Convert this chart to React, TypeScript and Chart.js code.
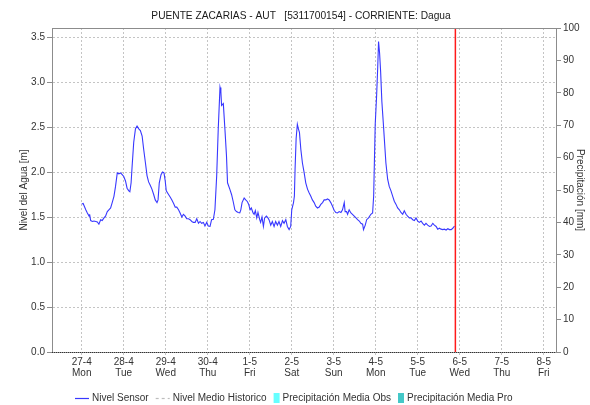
import React, { useEffect, useRef } from 'react';
import { Chart, registerables } from 'chart.js';

Chart.register(...registerables);

const TITLE = 'PUENTE ZACARIAS - AUT   [5311700154] - CORRIENTE: Dagua';
const LEFT_TITLE = 'Nivel del Agua [m]';
const RIGHT_TITLE = 'Precipitación [mm]';

const dayLabels = ['27-4', '28-4', '29-4', '30-4', '1-5', '2-5', '3-5', '4-5', '5-5', '6-5', '7-5', '8-5'];
const weekdayLabels = ['Mon', 'Tue', 'Wed', 'Thu', 'Fri', 'Sat', 'Sun', 'Mon', 'Tue', 'Wed', 'Thu', 'Fri'];
const tickHours = [0, 24, 48, 72, 96, 120, 144, 168, 192, 216, 240, 264];
const levelTicks = [0, 0.5, 1.0, 1.5, 2.0, 2.5, 3.0, 3.5];
const precipTicks = [0, 10, 20, 30, 40, 50, 60, 70, 80, 90, 100];

// hours since 27-4 00:00
const sensorHours = [
  0, 0.8, 2.3, 3.2, 4.2, 4.5, 5.1, 6.1, 7.0, 8.0, 8.9, 9.8, 10.8, 11.7, 12.7, 13.6, 14.6, 15.5, 16.5, 17.4,
  18.4, 19.3, 20.3, 21.2, 22.2, 23.1, 24.0, 25.0, 25.9, 26.9, 27.5, 28.2, 28.8, 29.7, 30.7, 31.6, 32.6, 33.5,
  34.5, 35.4, 36.4, 37.3, 38.2, 39.2, 40.1, 41.1, 42.0, 43.0, 43.6, 44.3, 45.3, 46.2, 47.0, 47.7, 48.3, 49.6,
  50.6, 51.5, 52.5, 53.4, 54.3, 55.3, 56.2, 57.2, 58.1, 59.1, 60.0, 61.0, 61.9, 62.9, 63.8, 64.8, 65.7, 66.7,
  67.6, 68.5, 69.5, 70.4, 71.4, 72.3, 73.3, 74.2, 75.2, 76.1, 77.1, 78.0, 79.0, 79.5, 79.9, 80.9, 81.8, 82.7,
  83.3, 84.6, 85.6, 86.5, 87.5, 88.4, 89.4, 90.3, 90.9, 91.6, 92.8, 93.7, 94.7, 95.4, 96.2, 96.9, 97.9, 98.5,
  99.2, 100.0, 100.7, 101.7, 102.2, 103.0, 103.8, 104.5, 105.5, 106.4, 107.0, 108.0, 108.9, 109.9, 110.8,
  111.8, 112.7, 113.7, 114.7, 115.6, 116.6, 117.5, 118.5, 119.4, 120.0, 121.0, 121.5, 121.9, 122.5, 123.2,
  123.8, 124.4, 125.2, 126.1, 127.1, 128.0, 129.0, 129.9, 130.9, 131.8, 132.8, 133.7, 134.7, 135.7, 136.6,
  137.6, 138.5, 139.5, 140.4, 141.4, 142.3, 143.3, 144.2, 145.2, 146.1, 147.1, 148.1, 149.0, 150.0, 150.5,
  151.3, 151.9, 152.8, 153.8, 154.7, 155.7, 156.7, 157.6, 158.6, 159.5, 160.5, 161.0, 162.0, 162.8, 163.9,
  165.2, 166.2, 166.8, 167.3, 167.7, 168.5, 169.1, 169.6, 170.2, 170.8, 171.5, 172.3, 172.9, 173.8, 174.8,
  175.7, 176.7, 177.7, 178.6, 179.6, 180.5, 181.5, 182.4, 183.4, 184.3, 185.3, 186.2, 187.2, 188.2, 189.1,
  190.1, 191.0, 192.0, 192.9, 193.9, 194.8, 195.8, 196.7, 197.7, 198.7, 199.6, 200.6, 201.5, 202.5, 203.4,
  204.4, 205.3, 206.3, 207.2, 208.2, 209.2, 210.1, 211.1, 212.0, 213.0,
];

const sensorLevels = [
  1.645, 1.65, 1.58, 1.545, 1.51, 1.53, 1.46, 1.45, 1.455, 1.45, 1.445, 1.42, 1.47, 1.46, 1.49, 1.51, 1.56, 1.58, 1.6, 1.66,
  1.73, 1.84, 1.99, 1.98, 1.99, 1.97, 1.95, 1.9, 1.82, 1.79, 1.78, 1.88, 2.07, 2.33, 2.48, 2.51, 2.48, 2.46,
  2.4, 2.25, 2.1, 1.96, 1.89, 1.85, 1.81, 1.75, 1.69, 1.66, 1.69, 1.88, 1.97, 2.0, 1.99, 1.9, 1.79, 1.75,
  1.72, 1.69, 1.65, 1.61, 1.61, 1.58, 1.545, 1.5, 1.53, 1.51, 1.48, 1.48, 1.47, 1.45, 1.44, 1.44, 1.48, 1.43,
  1.45, 1.43, 1.44, 1.4, 1.44, 1.4, 1.395, 1.47, 1.475, 1.58, 1.955, 2.48, 2.94, 2.89, 2.74, 2.76, 2.48, 2.18,
  1.88, 1.81, 1.75, 1.675, 1.58, 1.56, 1.55, 1.545, 1.58, 1.66, 1.71, 1.69, 1.67, 1.64, 1.58, 1.6, 1.545, 1.53,
  1.57, 1.49, 1.55, 1.47, 1.44, 1.5, 1.395, 1.49, 1.51, 1.49, 1.47, 1.41, 1.45, 1.395, 1.45,
  1.41, 1.45, 1.395, 1.46, 1.43, 1.47, 1.395, 1.36, 1.395, 1.58, 1.66, 1.73, 2.03, 2.37, 2.53,
  2.48, 2.44, 2.25, 2.1, 1.99, 1.88, 1.81, 1.77, 1.73, 1.69, 1.66, 1.62, 1.6, 1.61, 1.64,
  1.66, 1.69, 1.69, 1.7, 1.69, 1.66, 1.62, 1.575, 1.55, 1.545, 1.56, 1.55, 1.58, 1.66, 1.56,
  1.56, 1.53, 1.58, 1.545, 1.53, 1.51, 1.49, 1.47, 1.455, 1.43, 1.42, 1.36, 1.41, 1.47, 1.49,
  1.53, 1.545, 1.73, 2.18, 2.53, 2.85, 3.15, 3.45, 3.32, 3.11, 2.78, 2.55, 2.37, 2.1, 1.92,
  1.84, 1.79, 1.73, 1.675, 1.64, 1.6, 1.58, 1.55, 1.53, 1.57, 1.53, 1.51, 1.49, 1.49, 1.47,
  1.46, 1.49, 1.455, 1.44, 1.455, 1.43, 1.41, 1.43, 1.41, 1.395, 1.4, 1.43, 1.41, 1.395, 1.365,
  1.375, 1.365, 1.36, 1.365, 1.355, 1.37, 1.36, 1.36, 1.375, 1.4,
];

const historicoLevels: number[] = [];
const precipObs: number[] = [];
const precipPro: number[] = [];
const markerHour = 213.5;

const FONT = "'Liberation Sans', Arial, sans-serif";
const TEXT = '#333333';
const AXIS = '#8c8c8c';
const GRID = '#c4c4c4';

const decorPlugin = {
  id: 'decor',
  afterDraw(chart: any) {
    const { ctx, chartArea } = chart;
    const { left, right, top, bottom } = chartArea;
    ctx.save();
    // top border
    ctx.strokeStyle = AXIS;
    ctx.lineWidth = 1;
    ctx.beginPath();
    ctx.moveTo(left, Math.round(top) + 0.5);
    ctx.lineTo(right, Math.round(top) + 0.5);
    ctx.stroke();
    // bottom dotted axis
    ctx.strokeStyle = '#333';
    ctx.setLineDash([1, 1]);
    ctx.beginPath();
    ctx.moveTo(left, Math.round(bottom) + 0.5);
    ctx.lineTo(right, Math.round(bottom) + 0.5);
    ctx.stroke();
    ctx.setLineDash([]);

    // title
    ctx.fillStyle = '#1a1a1a';
    ctx.font = `10.2px ${FONT}`;
    ctx.textAlign = 'center';
    ctx.textBaseline = 'middle';
    ctx.fillText(TITLE, 301, 16);

    // legend
    ctx.font = `10px ${FONT}`;
    ctx.textAlign = 'left';
    const ly = 398;
    let x = 75;
    chart.data.datasets.forEach((ds: any) => {
      if (!ds.legendKind) return;
      if (ds.legendKind === 'line') {
        ctx.strokeStyle = ds.borderColor;
        ctx.lineWidth = 1.2;
        ctx.setLineDash(ds.borderDash || []);
        ctx.beginPath();
        ctx.moveTo(x, ly + 0.5);
        ctx.lineTo(x + 14, ly + 0.5);
        ctx.stroke();
        ctx.setLineDash([]);
        x += 17;
      } else {
        ctx.fillStyle = ds.backgroundColor;
        ctx.fillRect(x, ly - 5, 6, 10);
        x += 9;
      }
      ctx.fillStyle = TEXT;
      ctx.fillText(ds.label, x, ly);
      x += ctx.measureText(ds.label).width + 7;
    });
    ctx.restore();
  },
};

export default function App() {
  const ref = useRef<HTMLCanvasElement | null>(null);
  useEffect(() => {
    if (!ref.current) return;
    Chart.defaults.font.family = FONT;
    Chart.defaults.color = TEXT;
    const chart = new Chart(ref.current, {
      type: 'line',
      data: {
        datasets: [
          {
            label: 'Nivel Sensor',
            legendKind: 'line',
            data: sensorHours.map((h, i) => ({ x: h, y: sensorLevels[i] })),
            borderColor: '#3838ff',
            borderWidth: 1.1,
            pointRadius: 0,
            tension: 0,
            yAxisID: 'y',
            order: 1,
          } as any,
          {
            label: 'Nivel Medio Historico',
            legendKind: 'line',
            data: historicoLevels.map((v, i) => ({ x: i, y: v })),
            borderColor: '#bdbdbd',
            borderDash: [3, 3],
            borderWidth: 1,
            pointRadius: 0,
            yAxisID: 'y',
          } as any,
          {
            type: 'bar',
            label: 'Precipitación Media Obs',
            legendKind: 'box',
            data: precipObs.map((v, i) => ({ x: i, y: v })),
            backgroundColor: '#66ffff',
            yAxisID: 'y1',
          } as any,
          {
            type: 'bar',
            label: 'Precipitación Media Pro',
            legendKind: 'box',
            data: precipPro.map((v, i) => ({ x: i, y: v })),
            backgroundColor: '#44c8c8',
            yAxisID: 'y1',
          } as any,
          {
            label: 'Actual',
            data: [
              { x: markerHour, y: 0 },
              { x: markerHour, y: 3.6 },
            ],
            borderColor: '#ff1a1a',
            borderWidth: 1.5,
            pointRadius: 0,
            yAxisID: 'y',
            order: 0,
          } as any,
        ],
      },
      options: {
        responsive: false,
        animation: false,
        events: [],
        layout: { padding: { top: 28, left: 0, right: 0, bottom: 0 } },
        plugins: {
          legend: { display: false },
          title: { display: false },
          tooltip: { enabled: false },
        },
        scales: {
          x: {
            type: 'linear',
            min: -17,
            max: 271,
            offset: false,
            afterBuildTicks: (s: any) => {
              s.ticks = tickHours.map((v) => ({ value: v }));
            },
            afterFit: (s: any) => {
              s.height = 53;
            },
            ticks: {
              autoSkip: false,
              maxRotation: 0,
              padding: 2,
              color: TEXT,
              font: { size: 10, lineHeight: 1.1 },
              callback: (v: any) => {
                const i = tickHours.indexOf(Number(v));
                return i >= 0 ? [dayLabels[i], weekdayLabels[i]] : '';
              },
            },
            grid: {
              offset: false,
              color: GRID,
              tickLength: 3,
              tickColor: GRID,
              tickBorderDash: [2, 2],
            },
            border: { display: true, color: '#999', dash: [2, 2] },
          },
          y: {
            type: 'linear',
            position: 'left',
            min: 0,
            max: 3.6,
            afterBuildTicks: (s: any) => {
              s.ticks = levelTicks.map((v) => ({ value: v }));
            },
            afterFit: (s: any) => {
              s.width = 52;
            },
            ticks: {
              padding: 2,
              color: TEXT,
              font: { size: 10 },
              callback: (v: any) => Number(v).toFixed(1),
            },
            grid: {
              color: GRID,
              tickLength: 5,
              tickColor: AXIS,
              tickBorderDash: [],
            },
            border: { display: true, color: AXIS, dash: [2, 2] },
            title: {
              display: true,
              text: LEFT_TITLE,
              color: TEXT,
              font: { size: 10 },
              padding: { top: 18, bottom: 0 },
            },
          },
          y1: {
            type: 'linear',
            position: 'right',
            min: 0,
            max: 100,
            afterBuildTicks: (s: any) => {
              s.ticks = precipTicks.map((v) => ({ value: v }));
            },
            afterFit: (s: any) => {
              s.width = 34;
            },
            ticks: {
              padding: 2,
              color: TEXT,
              font: { size: 10 },
            },
            grid: {
              drawOnChartArea: false,
              tickLength: 5,
              tickColor: AXIS,
            },
            border: { display: true, color: AXIS },
            title: {
              display: true,
              text: RIGHT_TITLE,
              color: TEXT,
              font: { size: 10 },
              padding: { top: 4, bottom: 0 },
            },
          },
        },
      } as any,
      plugins: [decorPlugin],
    });
    return () => chart.destroy();
  }, []);

  return (
    <div style={{ position: 'fixed', left: 0, top: 0, width: 590, height: 405, background: '#fff' }}>
      <canvas ref={ref} width={590} height={405} style={{ display: 'block' }} />
    </div>
  );
}
